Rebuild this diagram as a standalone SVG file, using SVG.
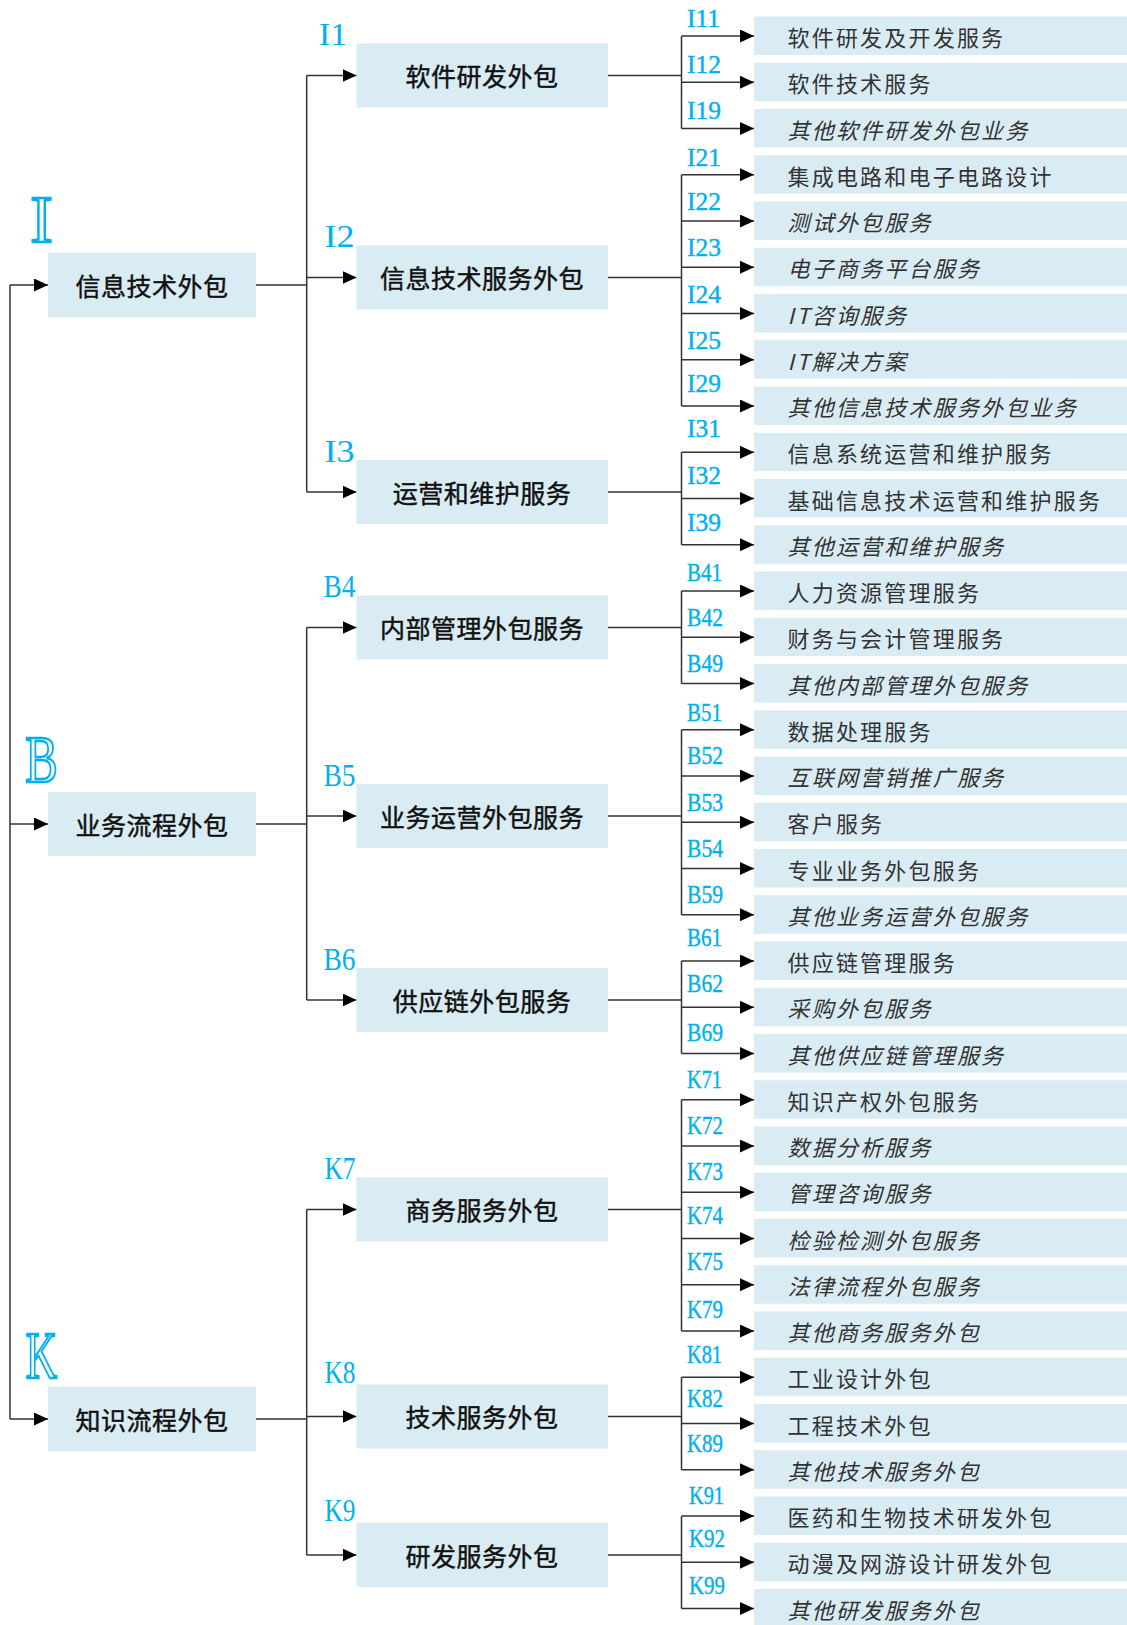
<svg xmlns="http://www.w3.org/2000/svg" width="1127" height="1625" viewBox="0 0 1127 1625">
<style>
.bg{fill:#ffffff}
.b1{fill:#DAECF3}
.b2{fill:#DAECF3}
.b3{fill:#DAECF3}
.t12{font-family:"Noto Sans CJK SC","Noto Sans",sans-serif;font-size:25px;fill:#111111;stroke:#111111;stroke-width:0.45;text-anchor:middle;letter-spacing:0.5px}
.t3{font-family:"Noto Sans CJK SC","Noto Sans",sans-serif;font-size:22px;fill:#333333;letter-spacing:2.2px}
.it{font-style:italic}
.c3{font-family:"Liberation Serif",serif;font-size:25px;fill:#00B0F0;stroke:#00B0F0;stroke-width:0.4}
.c2{font-family:"Liberation Serif",serif;font-size:32px;fill:#00B0F0}
.big{font-family:"Liberation Serif",serif;font-size:68px;fill:#ffffff;stroke:#00B0F0;stroke-width:2.4;text-anchor:middle}
.conn{fill:none;stroke:#333333;stroke-width:1.5}
.arr{fill:none;stroke:#333333;stroke-width:1.5;marker-end:url(#ah)}
</style>
<defs>
<marker id="ah" markerUnits="userSpaceOnUse" markerWidth="14" markerHeight="13" refX="14" refY="6.5" orient="auto">
<path d="M0,0 L14,6.5 L0,13 Z" fill="#000000"/>
</marker>
</defs>
<rect class="bg" x="0" y="0" width="1127" height="1625"/>

<g id="connectors">
<path class="conn" d="M10,285 V1419"/>
<path class="arr" d="M10,285 H48"/>
<path class="arr" d="M10,824 H48"/>
<path class="arr" d="M10,1419 H48"/>
<path class="conn" d="M256,285 H306.7 M306.7,75.5 V492"/>
<path class="arr" d="M306.7,75.5 H356.5"/>
<path class="arr" d="M306.7,277.5 H356.5"/>
<path class="arr" d="M306.7,492 H356.5"/>
<path class="conn" d="M256,824 H306.7 M306.7,627.5 V1000"/>
<path class="arr" d="M306.7,627.5 H356.5"/>
<path class="arr" d="M306.7,816 H356.5"/>
<path class="arr" d="M306.7,1000 H356.5"/>
<path class="conn" d="M256,1419 H306.7 M306.7,1209.5 V1555"/>
<path class="arr" d="M306.7,1209.5 H356.5"/>
<path class="arr" d="M306.7,1416.5 H356.5"/>
<path class="arr" d="M306.7,1555 H356.5"/>
<path class="conn" d="M608,75.5 H681.5 M681.5,36 V128.5"/>
<path class="conn" d="M608,277.5 H681.5 M681.5,174.75 V406"/>
<path class="conn" d="M608,492 H681.5 M681.5,452.25 V544.75"/>
<path class="conn" d="M608,627.5 H681.5 M681.5,591 V683.5"/>
<path class="conn" d="M608,816 H681.5 M681.5,729.75 V914.75"/>
<path class="conn" d="M608,1000 H681.5 M681.5,961 V1053.5"/>
<path class="conn" d="M608,1209.5 H681.5 M681.5,1099.75 V1331"/>
<path class="conn" d="M608,1416.5 H681.5 M681.5,1377.25 V1469.75"/>
<path class="conn" d="M608,1555 H681.5 M681.5,1516 V1608.5"/>
<path class="arr" d="M681.5,36 H754"/>
<path class="arr" d="M681.5,82.25 H754"/>
<path class="arr" d="M681.5,128.5 H754"/>
<path class="arr" d="M681.5,174.75 H754"/>
<path class="arr" d="M681.5,221 H754"/>
<path class="arr" d="M681.5,267.25 H754"/>
<path class="arr" d="M681.5,313.5 H754"/>
<path class="arr" d="M681.5,359.75 H754"/>
<path class="arr" d="M681.5,406 H754"/>
<path class="arr" d="M681.5,452.25 H754"/>
<path class="arr" d="M681.5,498.5 H754"/>
<path class="arr" d="M681.5,544.75 H754"/>
<path class="arr" d="M681.5,591 H754"/>
<path class="arr" d="M681.5,637.25 H754"/>
<path class="arr" d="M681.5,683.5 H754"/>
<path class="arr" d="M681.5,729.75 H754"/>
<path class="arr" d="M681.5,776 H754"/>
<path class="arr" d="M681.5,822.25 H754"/>
<path class="arr" d="M681.5,868.5 H754"/>
<path class="arr" d="M681.5,914.75 H754"/>
<path class="arr" d="M681.5,961 H754"/>
<path class="arr" d="M681.5,1007.25 H754"/>
<path class="arr" d="M681.5,1053.5 H754"/>
<path class="arr" d="M681.5,1099.75 H754"/>
<path class="arr" d="M681.5,1146 H754"/>
<path class="arr" d="M681.5,1192.25 H754"/>
<path class="arr" d="M681.5,1238.5 H754"/>
<path class="arr" d="M681.5,1284.75 H754"/>
<path class="arr" d="M681.5,1331 H754"/>
<path class="arr" d="M681.5,1377.25 H754"/>
<path class="arr" d="M681.5,1423.5 H754"/>
<path class="arr" d="M681.5,1469.75 H754"/>
<path class="arr" d="M681.5,1516 H754"/>
<path class="arr" d="M681.5,1562.25 H754"/>
<path class="arr" d="M681.5,1608.5 H754"/>
</g>

<g id="n-I">
<text class="big" x="41.5" y="242">I</text>
<rect class="b1" x="48" y="253" width="208" height="64"/>
<text class="t12" x="152" y="295.5">信息技术外包</text>
</g>
<g id="n-B">
<text class="big" transform="translate(41.5,782) scale(0.72,1)" x="0" y="0">B</text>
<rect class="b1" x="48" y="792" width="208" height="64"/>
<text class="t12" x="152" y="834.5">业务流程外包</text>
</g>
<g id="n-K">
<text class="big" transform="translate(41.5,1378) scale(0.64,1)" x="0" y="0">K</text>
<rect class="b1" x="48" y="1387" width="208" height="64"/>
<text class="t12" x="152" y="1429.5">知识流程外包</text>
</g>

<g id="n-I1"><text class="c2" x="319" y="45" textLength="28" lengthAdjust="spacingAndGlyphs">I1</text><rect class="b2" x="356.5" y="43.5" width="251.5" height="64"/><text class="t12" x="482" y="86">软件研发外包</text></g>
<g id="n-I2"><text class="c2" x="324.5" y="247" textLength="30" lengthAdjust="spacingAndGlyphs">I2</text><rect class="b2" x="356.5" y="245.5" width="251.5" height="64"/><text class="t12" x="482" y="288">信息技术服务外包</text></g>
<g id="n-I3"><text class="c2" x="324.5" y="461.5" textLength="30" lengthAdjust="spacingAndGlyphs">I3</text><rect class="b2" x="356.5" y="460" width="251.5" height="64"/><text class="t12" x="482" y="502.5">运营和维护服务</text></g>
<g id="n-B4"><text class="c2" x="323.5" y="597" textLength="32" lengthAdjust="spacingAndGlyphs">B4</text><rect class="b2" x="356.5" y="595.5" width="251.5" height="64"/><text class="t12" x="482" y="638">内部管理外包服务</text></g>
<g id="n-B5"><text class="c2" x="323.5" y="785.5" textLength="32" lengthAdjust="spacingAndGlyphs">B5</text><rect class="b2" x="356.5" y="784" width="251.5" height="64"/><text class="t12" x="482" y="826.5">业务运营外包服务</text></g>
<g id="n-B6"><text class="c2" x="323.5" y="969.5" textLength="32" lengthAdjust="spacingAndGlyphs">B6</text><rect class="b2" x="356.5" y="968" width="251.5" height="64"/><text class="t12" x="482" y="1010.5">供应链外包服务</text></g>
<g id="n-K7"><text class="c2" x="324.5" y="1179" textLength="31" lengthAdjust="spacingAndGlyphs">K7</text><rect class="b2" x="356.5" y="1177.5" width="251.5" height="64"/><text class="t12" x="482" y="1220">商务服务外包</text></g>
<g id="n-K8"><text class="c2" x="324.5" y="1382.5" textLength="31" lengthAdjust="spacingAndGlyphs">K8</text><rect class="b2" x="356.5" y="1384.5" width="251.5" height="64"/><text class="t12" x="482" y="1427">技术服务外包</text></g>
<g id="n-K9"><text class="c2" x="324.5" y="1521" textLength="31" lengthAdjust="spacingAndGlyphs">K9</text><rect class="b2" x="356.5" y="1523" width="251.5" height="64"/><text class="t12" x="482" y="1565.5">研发服务外包</text></g>

<g id="n-I11"><rect class="b3" x="754" y="16.5" width="373" height="38.5"/><text class="c3" x="687" y="26.7" textLength="33" lengthAdjust="spacingAndGlyphs">I11</text><text class="t3" x="787.5" y="46">软件研发及开发服务</text></g>
<g id="n-I12"><rect class="b3" x="754" y="62.75" width="373" height="38.5"/><text class="c3" x="687" y="72.7" textLength="34" lengthAdjust="spacingAndGlyphs">I12</text><text class="t3" x="787.5" y="92.25">软件技术服务</text></g>
<g id="n-I19"><rect class="b3" x="754" y="109" width="373" height="38.5"/><text class="c3" x="687" y="119.3" textLength="34" lengthAdjust="spacingAndGlyphs">I19</text><text class="t3 it" x="787.5" y="138.5">其他软件研发外包业务</text></g>
<g id="n-I21"><rect class="b3" x="754" y="155.25" width="373" height="38.5"/><text class="c3" x="687" y="165.7" textLength="34" lengthAdjust="spacingAndGlyphs">I21</text><text class="t3" x="787.5" y="184.75">集成电路和电子电路设计</text></g>
<g id="n-I22"><rect class="b3" x="754" y="201.5" width="373" height="38.5"/><text class="c3" x="687" y="210" textLength="34" lengthAdjust="spacingAndGlyphs">I22</text><text class="t3 it" x="787.5" y="231">测试外包服务</text></g>
<g id="n-I23"><rect class="b3" x="754" y="247.75" width="373" height="38.5"/><text class="c3" x="687" y="256" textLength="34" lengthAdjust="spacingAndGlyphs">I23</text><text class="t3 it" x="787.5" y="277.25">电子商务平台服务</text></g>
<g id="n-I24"><rect class="b3" x="754" y="294" width="373" height="38.5"/><text class="c3" x="687" y="302.7" textLength="34" lengthAdjust="spacingAndGlyphs">I24</text><text class="t3 it" x="787.5" y="323.5">IT咨询服务</text></g>
<g id="n-I25"><rect class="b3" x="754" y="340.25" width="373" height="38.5"/><text class="c3" x="687" y="349.3" textLength="34" lengthAdjust="spacingAndGlyphs">I25</text><text class="t3 it" x="787.5" y="369.75">IT解决方案</text></g>
<g id="n-I29"><rect class="b3" x="754" y="386.5" width="373" height="38.5"/><text class="c3" x="687" y="391.7" textLength="34" lengthAdjust="spacingAndGlyphs">I29</text><text class="t3 it" x="787.5" y="416">其他信息技术服务外包业务</text></g>
<g id="n-I31"><rect class="b3" x="754" y="432.75" width="373" height="38.5"/><text class="c3" x="687" y="437.3" textLength="34" lengthAdjust="spacingAndGlyphs">I31</text><text class="t3" x="787.5" y="462.25">信息系统运营和维护服务</text></g>
<g id="n-I32"><rect class="b3" x="754" y="479" width="373" height="38.5"/><text class="c3" x="687" y="484" textLength="34" lengthAdjust="spacingAndGlyphs">I32</text><text class="t3" x="787.5" y="508.5">基础信息技术运营和维护服务</text></g>
<g id="n-I39"><rect class="b3" x="754" y="525.25" width="373" height="38.5"/><text class="c3" x="687" y="530.7" textLength="34" lengthAdjust="spacingAndGlyphs">I39</text><text class="t3 it" x="787.5" y="554.75">其他运营和维护服务</text></g>
<g id="n-B41"><rect class="b3" x="754" y="571.5" width="373" height="38.5"/><text class="c3" x="687" y="580.7" textLength="35" lengthAdjust="spacingAndGlyphs">B41</text><text class="t3" x="787.5" y="601">人力资源管理服务</text></g>
<g id="n-B42"><rect class="b3" x="754" y="617.75" width="373" height="38.5"/><text class="c3" x="687" y="626" textLength="36" lengthAdjust="spacingAndGlyphs">B42</text><text class="t3" x="787.5" y="647.25">财务与会计管理服务</text></g>
<g id="n-B49"><rect class="b3" x="754" y="664" width="373" height="38.5"/><text class="c3" x="687" y="671.7" textLength="36" lengthAdjust="spacingAndGlyphs">B49</text><text class="t3 it" x="787.5" y="693.5">其他内部管理外包服务</text></g>
<g id="n-B51"><rect class="b3" x="754" y="710.25" width="373" height="38.5"/><text class="c3" x="687" y="721" textLength="35" lengthAdjust="spacingAndGlyphs">B51</text><text class="t3" x="787.5" y="739.75">数据处理服务</text></g>
<g id="n-B52"><rect class="b3" x="754" y="756.5" width="373" height="38.5"/><text class="c3" x="687" y="764" textLength="36" lengthAdjust="spacingAndGlyphs">B52</text><text class="t3 it" x="787.5" y="786">互联网营销推广服务</text></g>
<g id="n-B53"><rect class="b3" x="754" y="802.75" width="373" height="38.5"/><text class="c3" x="687" y="810.7" textLength="36" lengthAdjust="spacingAndGlyphs">B53</text><text class="t3" x="787.5" y="832.25">客户服务</text></g>
<g id="n-B54"><rect class="b3" x="754" y="849" width="373" height="38.5"/><text class="c3" x="687" y="856.7" textLength="36" lengthAdjust="spacingAndGlyphs">B54</text><text class="t3" x="787.5" y="878.5">专业业务外包服务</text></g>
<g id="n-B59"><rect class="b3" x="754" y="895.25" width="373" height="38.5"/><text class="c3" x="687" y="903.3" textLength="36" lengthAdjust="spacingAndGlyphs">B59</text><text class="t3 it" x="787.5" y="924.75">其他业务运营外包服务</text></g>
<g id="n-B61"><rect class="b3" x="754" y="941.5" width="373" height="38.5"/><text class="c3" x="687" y="946" textLength="35" lengthAdjust="spacingAndGlyphs">B61</text><text class="t3" x="787.5" y="971">供应链管理服务</text></g>
<g id="n-B62"><rect class="b3" x="754" y="987.75" width="373" height="38.5"/><text class="c3" x="687" y="991.7" textLength="36" lengthAdjust="spacingAndGlyphs">B62</text><text class="t3 it" x="787.5" y="1017.25">采购外包服务</text></g>
<g id="n-B69"><rect class="b3" x="754" y="1034" width="373" height="38.5"/><text class="c3" x="687" y="1041" textLength="36" lengthAdjust="spacingAndGlyphs">B69</text><text class="t3 it" x="787.5" y="1063.5">其他供应链管理服务</text></g>
<g id="n-K71"><rect class="b3" x="754" y="1080.25" width="373" height="38.5"/><text class="c3" x="687" y="1087.7" textLength="35" lengthAdjust="spacingAndGlyphs">K71</text><text class="t3" x="787.5" y="1109.75">知识产权外包服务</text></g>
<g id="n-K72"><rect class="b3" x="754" y="1126.5" width="373" height="38.5"/><text class="c3" x="687" y="1134" textLength="36" lengthAdjust="spacingAndGlyphs">K72</text><text class="t3 it" x="787.5" y="1156">数据分析服务</text></g>
<g id="n-K73"><rect class="b3" x="754" y="1172.75" width="373" height="38.5"/><text class="c3" x="687" y="1180" textLength="36" lengthAdjust="spacingAndGlyphs">K73</text><text class="t3 it" x="787.5" y="1202.25">管理咨询服务</text></g>
<g id="n-K74"><rect class="b3" x="754" y="1219" width="373" height="38.5"/><text class="c3" x="687" y="1224" textLength="36" lengthAdjust="spacingAndGlyphs">K74</text><text class="t3 it" x="787.5" y="1248.5">检验检测外包服务</text></g>
<g id="n-K75"><rect class="b3" x="754" y="1265.25" width="373" height="38.5"/><text class="c3" x="687" y="1270" textLength="36" lengthAdjust="spacingAndGlyphs">K75</text><text class="t3 it" x="787.5" y="1294.75">法律流程外包服务</text></g>
<g id="n-K79"><rect class="b3" x="754" y="1311.5" width="373" height="38.5"/><text class="c3" x="687" y="1317.7" textLength="36" lengthAdjust="spacingAndGlyphs">K79</text><text class="t3 it" x="787.5" y="1341">其他商务服务外包</text></g>
<g id="n-K81"><rect class="b3" x="754" y="1357.75" width="373" height="38.5"/><text class="c3" x="687" y="1363.3" textLength="35" lengthAdjust="spacingAndGlyphs">K81</text><text class="t3" x="787.5" y="1387.25">工业设计外包</text></g>
<g id="n-K82"><rect class="b3" x="754" y="1404" width="373" height="38.5"/><text class="c3" x="687" y="1406.7" textLength="36" lengthAdjust="spacingAndGlyphs">K82</text><text class="t3" x="787.5" y="1433.5">工程技术外包</text></g>
<g id="n-K89"><rect class="b3" x="754" y="1450.25" width="373" height="38.5"/><text class="c3" x="687" y="1452.3" textLength="36" lengthAdjust="spacingAndGlyphs">K89</text><text class="t3 it" x="787.5" y="1479.75">其他技术服务外包</text></g>
<g id="n-K91"><rect class="b3" x="754" y="1496.5" width="373" height="38.5"/><text class="c3" x="689" y="1504" textLength="35" lengthAdjust="spacingAndGlyphs">K91</text><text class="t3" x="787.5" y="1526">医药和生物技术研发外包</text></g>
<g id="n-K92"><rect class="b3" x="754" y="1542.75" width="373" height="38.5"/><text class="c3" x="689" y="1547.3" textLength="36" lengthAdjust="spacingAndGlyphs">K92</text><text class="t3" x="787.5" y="1572.25">动漫及网游设计研发外包</text></g>
<g id="n-K99"><rect class="b3" x="754" y="1589" width="373" height="38.5"/><text class="c3" x="689" y="1594" textLength="36" lengthAdjust="spacingAndGlyphs">K99</text><text class="t3 it" x="787.5" y="1618.5">其他研发服务外包</text></g>
</svg>
